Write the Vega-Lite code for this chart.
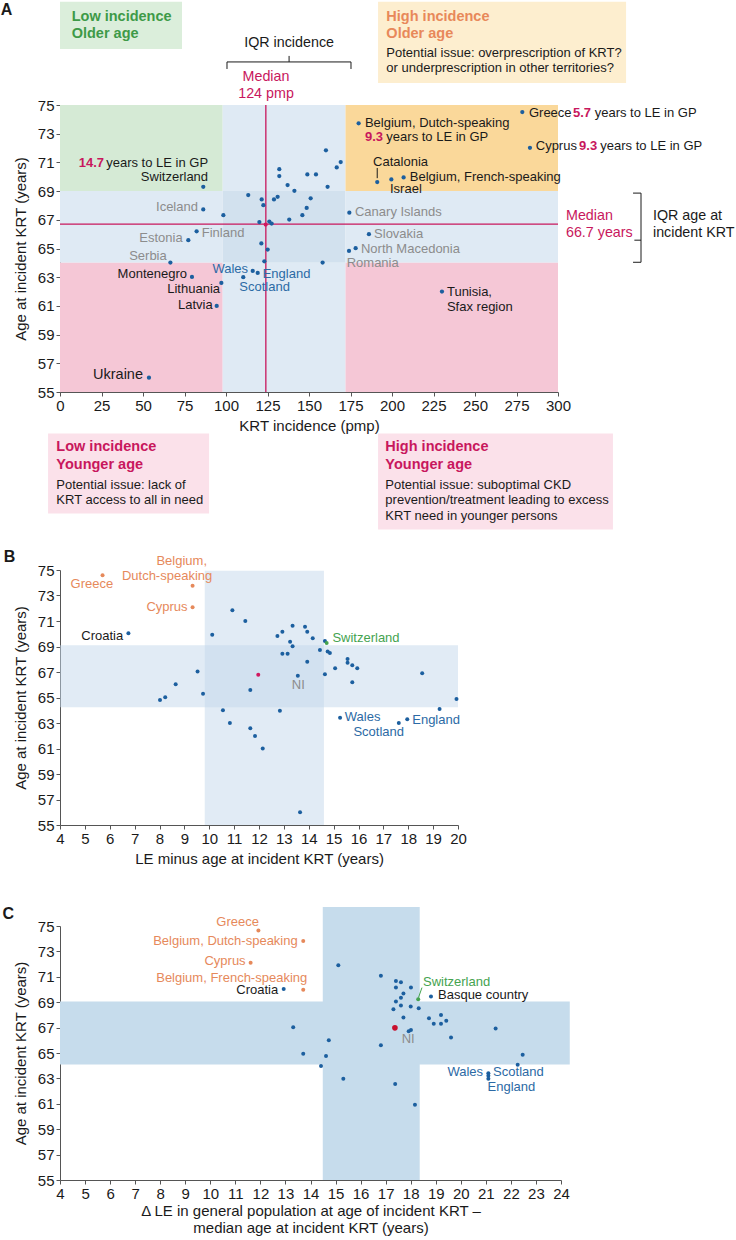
{
"$schema":"https://vega.github.io/schema/vega-lite/v6.json",
"autosize":"none",
"padding":{"left":60,"top":105,"right":676,"bottom":1135},
"background":"white",
"spacing":0,
"bounds":"flush",
"config":{"font":"Liberation Sans","view":{"stroke":null},
 "axis":{"labelFont":"Liberation Sans","titleFont":"Liberation Sans","labelFontSize":15,"titleFontSize":15,"titleFontWeight":"normal","labelColor":"#1a1a1a","titleColor":"#1a1a1a","domainColor":"#555","tickColor":"#555","tickSize":4,"labelPadding":2,"grid":false,"zindex":1,"labelFlush":false,"labelOverlap":false,"labelBound":false},
 "text":{"font":"Liberation Sans","fontSize":13}},
"vconcat":[
{
"width":498,"height":287,
"encoding":{
 "x":{"field":"x","type":"quantitative","scale":{"domain":[0,300],"nice":false,"zero":false},"axis":{"values":[0,25,50,75,100,125,150,175,200,225,250,275,300],"title":"KRT incidence (pmp)","titlePadding":5}},
 "y":{"field":"y","type":"quantitative","scale":{"domain":[55,75],"nice":false,"zero":false},"axis":{"values":[55,57,59,61,63,65,67,69,71,73,75],"title":"Age at incident KRT (years)","titlePadding":9}},
 "color":{"field":"c","type":"nominal","legend":null,"scale":{"domain":["zone_green","zone_blue","zone_iqr","zone_orange","zone_pink","box_green","box_orange","box_pink","country","median","text","text_grey","text_uk","text_crimson","title_green","title_orange","title_crimson","outlier","swiss","median_red","band","band_b"],"range":["#d5ead5","#dfeaf4","#d2e1ee","#fad89a","#f5c7d6","#dbeedb","#fdeecf","#fbe1ea","#1c5f9f","#d0175f","#1a1a1a","#8c8c8c","#2c6aa5","#c8175d","#3e9a48","#e8885a","#c8175d","#e6895b","#45a34f","#c8102e","#c6dcec","#c3d7eb"]}}
},
"layer":[
 {"data":{"values":[
  {"x":0,"x2":98,"y":69,"y2":75,"c":"zone_green"},
  {"x":98,"x2":172,"y":69,"y2":75,"c":"zone_blue"},
  {"x":172,"x2":300,"y":69,"y2":75,"c":"zone_orange"},
  {"x":0,"x2":98,"y":64,"y2":69,"c":"zone_blue"},
  {"x":98,"x2":172,"y":64,"y2":69,"c":"zone_iqr"},
  {"x":172,"x2":300,"y":64,"y2":69,"c":"zone_blue"},
  {"x":0,"x2":98,"y":55,"y2":64,"c":"zone_pink"},
  {"x":98,"x2":172,"y":55,"y2":64,"c":"zone_blue"},
  {"x":172,"x2":300,"y":55,"y2":64,"c":"zone_pink"},
  {"x":0,"x2":73.5,"y":78.91,"y2":82.19,"c":"box_green"},
  {"x":191.6,"x2":341,"y":76.54,"y2":82.19,"c":"box_orange"},
  {"x":-7.2,"x2":89.8,"y":46.53,"y2":52.11,"c":"box_pink"},
  {"x":191.6,"x2":333.1,"y":45.41,"y2":52.11,"c":"box_pink"}]},
  "mark":{"type":"rect"},
  "encoding":{"x2":{"field":"x2"},"y2":{"field":"y2"}}},
 {"data":{"values":[
  {"x":124,"x2":124,"y":55,"y2":75,"c":"text_crimson"},
  {"x":0,"x2":300,"y":66.7,"y2":66.7,"c":"text_crimson"}]},
  "mark":{"type":"rule","strokeWidth":1.3},
  "encoding":{"x2":{"field":"x2"},"y2":{"field":"y2"}}},
 {"data":{"values":[
  {"x":100.6,"x2":175.3,"y":78.0,"y2":78.0,"c":"text"},
  {"x":100.6,"x2":100.6,"y":78.0,"y2":77.51,"c":"text"},
  {"x":175.3,"x2":175.3,"y":78.0,"y2":77.51,"c":"text"},
  {"x":138,"x2":138,"y":78.0,"y2":78.42,"c":"text"},
  {"x":350,"x2":350,"y":68.86,"y2":64.04,"c":"text"},
  {"x":345.2,"x2":350,"y":68.86,"y2":68.86,"c":"text"},
  {"x":345.2,"x2":350,"y":64.04,"y2":64.04,"c":"text"},
  {"x":346,"x2":350,"y":65.58,"y2":65.58,"c":"text"},
  {"x":191.1,"x2":191.1,"y":70.61,"y2":69.9,"c":"text"}]},
  "mark":{"type":"rule","strokeWidth":1},
  "encoding":{"x2":{"field":"x2"},"y2":{"field":"y2"}}},
 {"data":{"values":[
  {"x":86.3,"y":69.3,"c":"country"},{"x":86.3,"y":67.72,"c":"country"},{"x":98.4,"y":67.32,"c":"country"},
  {"x":77.3,"y":65.58,"c":"country"},{"x":82.3,"y":66.2,"c":"country"},{"x":66.5,"y":64.02,"c":"country"},
  {"x":79.5,"y":63.02,"c":"country"},{"x":97.2,"y":62.6,"c":"country"},{"x":94.4,"y":61.0,"c":"country"},
  {"x":53.6,"y":56.0,"c":"country"},{"x":116.1,"y":63.44,"c":"country"},{"x":119.1,"y":63.3,"c":"country"},
  {"x":110.4,"y":63.0,"c":"country"},{"x":121.3,"y":65.35,"c":"country"},{"x":125.1,"y":64.93,"c":"country"},
  {"x":123.1,"y":64.11,"c":"country"},{"x":158.2,"y":64.02,"c":"country"},{"x":113.4,"y":68.72,"c":"country"},
  {"x":121.5,"y":68.42,"c":"country"},{"x":122.5,"y":68.02,"c":"country"},{"x":128.9,"y":68.42,"c":"country"},
  {"x":131.1,"y":68.6,"c":"country"},{"x":151,"y":68.5,"c":"country"},{"x":148.6,"y":67.83,"c":"country"},
  {"x":146,"y":67.32,"c":"country"},{"x":138.1,"y":67.02,"c":"country"},{"x":120.1,"y":66.84,"c":"country"},
  {"x":126.1,"y":66.88,"c":"country"},{"x":127.5,"y":66.74,"c":"country"},{"x":174.3,"y":67.5,"c":"country"},
  {"x":132.1,"y":70.53,"c":"country"},{"x":132.1,"y":70.05,"c":"country"},{"x":137.1,"y":69.42,"c":"country"},
  {"x":141.2,"y":69.02,"c":"country"},{"x":149,"y":70.16,"c":"country"},{"x":154.2,"y":70.16,"c":"country"},
  {"x":160.2,"y":71.84,"c":"country"},{"x":161.2,"y":69.3,"c":"country"},{"x":166.7,"y":70.65,"c":"country"},
  {"x":169.1,"y":71.02,"c":"country"},{"x":179.9,"y":73.72,"c":"country"},{"x":186.1,"y":66.0,"c":"country"},
  {"x":174.1,"y":64.83,"c":"country"},{"x":178.1,"y":65.02,"c":"country"},{"x":191.1,"y":69.63,"c":"country"},
  {"x":278.5,"y":74.51,"c":"country"},{"x":283.1,"y":72.02,"c":"country"},{"x":199.6,"y":69.81,"c":"country"},
  {"x":207,"y":69.95,"c":"country"},{"x":230.1,"y":62.0,"c":"country"},
  {"x":123.9,"y":66.67,"c":"median"}]},
  "mark":{"type":"circle","size":18,"opacity":1}},
 {"data":{"values":[
  {"t":"Catalonia","x":188.6,"y":71.03,"c":"text"},
  {"t":"Israel","x":198.8,"y":69.15,"c":"text"},
  {"t":"Belgium, French-speaking","x":210.7,"y":69.98,"c":"text"},
  {"t":"Belgium, Dutch-speaking","x":183.7,"y":73.75,"c":"text"},
  {"t":"years to LE in GP","x":196.6,"y":72.77,"c":"text"},
  {"t":"Greece","x":282.5,"y":74.44,"c":"text"},
  {"t":"years to LE in GP","x":322.1,"y":74.44,"c":"text"},
  {"t":"Cyprus","x":286.6,"y":72.14,"c":"text"},
  {"t":"years to LE in GP","x":325.5,"y":72.14,"c":"text"},
  {"t":"Tunisia,","x":233.1,"y":61.99,"c":"text"},
  {"t":"Sfax region","x":233.1,"y":60.92,"c":"text"},
  {"t":"Finland","x":85.4,"y":66.08,"c":"text_grey"},
  {"t":"Canary Islands","x":177.7,"y":67.54,"c":"text_grey"},
  {"t":"Slovakia","x":189.2,"y":66.0,"c":"text_grey"},
  {"t":"North Macedonia","x":181.3,"y":65.0,"c":"text_grey"},
  {"t":"Romania","x":172.7,"y":64.0,"c":"text_grey"},
  {"t":"England","x":122.1,"y":63.2,"c":"text_uk"},
  {"t":"Scotland","x":108,"y":62.34,"c":"text_uk"},
  {"t":"Potential issue: overprescription of KRT?","x":196.6,"y":78.65,"c":"text"},
  {"t":"or underprescription in other territories?","x":196.6,"y":77.56,"c":"text"},
  {"t":"Potential issue: lack of","x":-2.2,"y":48.53,"c":"text"},
  {"t":"KRT access to all in need","x":-2.2,"y":47.5,"c":"text"},
  {"t":"Potential issue: suboptimal CKD","x":196.0,"y":48.53,"c":"text"},
  {"t":"prevention/treatment leading to excess","x":196.0,"y":47.5,"c":"text"},
  {"t":"KRT need in younger persons","x":196.0,"y":46.39,"c":"text"}]},
  "mark":{"type":"text","align":"left","fontSize":13},
  "encoding":{"text":{"field":"t"}}},
 {"data":{"values":[
  {"t":"Switzerland","x":89.2,"y":69.98,"c":"text"},
  {"t":"years to LE in GP","x":89.2,"y":70.96,"c":"text"},
  {"t":"Iceland","x":83.1,"y":67.89,"c":"text_grey"},
  {"t":"Estonia","x":73.9,"y":65.73,"c":"text_grey"},
  {"t":"Serbia","x":64.3,"y":64.48,"c":"text_grey"},
  {"t":"Montenegro","x":76.5,"y":63.22,"c":"text"},
  {"t":"Lithuania","x":96.4,"y":62.17,"c":"text"},
  {"t":"Latvia","x":92,"y":61.06,"c":"text"},
  {"t":"Wales","x":113.3,"y":63.6,"c":"text_uk"}]},
  "mark":{"type":"text","align":"right","fontSize":13},
  "encoding":{"text":{"field":"t"}}},
 {"data":{"values":[
  {"t":"9.3","x":183.7,"y":72.77,"c":"text_crimson"},
  {"t":"5.7","x":309,"y":74.44,"c":"text_crimson"},
  {"t":"9.3","x":312.7,"y":72.14,"c":"text_crimson"}]},
  "mark":{"type":"text","align":"left","fontSize":13,"fontWeight":"bold"},
  "encoding":{"text":{"field":"t"}}},
 {"data":{"values":[
  {"t":"14.7","x":26.5,"y":70.96,"c":"text_crimson"}]},
  "mark":{"type":"text","align":"right","fontSize":13,"fontWeight":"bold"},
  "encoding":{"text":{"field":"t"}}},
 {"data":{"values":[
  {"t":"Ukraine","x":50,"y":56.18,"c":"text"}]},
  "mark":{"type":"text","align":"right","fontSize":14.5},
  "encoding":{"text":{"field":"t"}}},
 {"data":{"values":[
  {"t":"Low incidence","x":7.05,"y":81.14,"c":"title_green"},
  {"t":"Older age","x":7.05,"y":79.95,"c":"title_green"},
  {"t":"High incidence","x":196.6,"y":81.16,"c":"title_orange"},
  {"t":"Older age","x":196.6,"y":79.93,"c":"title_orange"},
  {"t":"Low incidence","x":-2.2,"y":51.16,"c":"title_crimson"},
  {"t":"Younger age","x":-2.2,"y":49.93,"c":"title_crimson"},
  {"t":"High incidence","x":196.0,"y":51.16,"c":"title_crimson"},
  {"t":"Younger age","x":196.0,"y":49.93,"c":"title_crimson"}]},
  "mark":{"type":"text","align":"left","fontSize":14.5,"fontWeight":"bold"},
  "encoding":{"text":{"field":"t"}}},
 {"data":{"values":[
  {"t":"IQR incidence","x":138,"y":79.33,"c":"text"},
  {"t":"Median","x":124.1,"y":76.95,"c":"text_crimson"},
  {"t":"124 pmp","x":124.1,"y":75.77,"c":"text_crimson"}]},
  "mark":{"type":"text","align":"center","fontSize":14.3},
  "encoding":{"text":{"field":"t"}}},
 {"data":{"values":[
  {"t":"Median","x":304.8,"y":67.25,"c":"text_crimson"},
  {"t":"66.7 years","x":304.8,"y":66.07,"c":"text_crimson"},
  {"t":"IQR age at","x":357.2,"y":67.25,"c":"text"},
  {"t":"incident KRT","x":357.2,"y":66.07,"c":"text"}]},
  "mark":{"type":"text","align":"left","fontSize":14.3},
  "encoding":{"text":{"field":"t"}}},
 {"data":{"values":[{"t":"A","x":-32.2,"y":81.65,"c":"text"}]},
  "mark":{"type":"text","align":"center","fontSize":16,"fontWeight":"bold"},
  "encoding":{"text":{"field":"t"}}}
]
},
{"width":10,"height":178,"data":{"values":[]},"mark":{"type":"point"},"encoding":{}},
{
"width":398,"height":255,
"encoding":{
 "x":{"field":"x","type":"quantitative","scale":{"domain":[4,20],"nice":false,"zero":false},"axis":{"values":[4,5,6,7,8,9,10,11,12,13,14,15,16,17,18,19,20],"title":"LE minus age at incident KRT (years)","titlePadding":5}},
 "y":{"field":"y","type":"quantitative","scale":{"domain":[55,75],"nice":false,"zero":false},"axis":{"values":[55,57,59,61,63,65,67,69,71,73,75],"title":"Age at incident KRT (years)","titlePadding":9}},
 "color":{"field":"c","type":"nominal","legend":null,"scale":{"domain":["zone_green","zone_blue","zone_iqr","zone_orange","zone_pink","box_green","box_orange","box_pink","country","median","text","text_grey","text_uk","text_crimson","title_green","title_orange","title_crimson","outlier","swiss","median_red","band","band_b"],"range":["#d5ead5","#dfeaf4","#d2e1ee","#fad89a","#f5c7d6","#dbeedb","#fdeecf","#fbe1ea","#1c5f9f","#d0175f","#1a1a1a","#8c8c8c","#2c6aa5","#c8175d","#3e9a48","#e8885a","#c8175d","#e6895b","#45a34f","#c8102e","#c6dcec","#c3d7eb"]}}
},
"layer":[
 {"data":{"values":[
  {"x":9.82,"x2":14.61,"y":55,"y2":74.95,"c":"band_b"},
  {"x":4,"x2":20,"y":64.23,"y2":69.09,"c":"band_b"}]},
  "mark":{"type":"rect","opacity":0.5},
  "encoding":{"x2":{"field":"x2"},"y2":{"field":"y2"}}},
 {"data":{"values":[
  {"x":5.71,"y":74.58,"c":"outlier"},{"x":9.33,"y":73.77,"c":"outlier"},{"x":9.33,"y":72.07,"c":"outlier"},
  {"x":6.75,"y":70.03,"c":"country"},{"x":10.12,"y":69.93,"c":"country"},{"x":10.93,"y":71.84,"c":"country"},
  {"x":11.45,"y":71.0,"c":"country"},{"x":9.53,"y":67.03,"c":"country"},{"x":8.65,"y":66.03,"c":"country"},
  {"x":8.23,"y":65.01,"c":"country"},{"x":8.02,"y":64.8,"c":"country"},{"x":9.75,"y":65.3,"c":"country"},
  {"x":10.55,"y":64.0,"c":"country"},{"x":10.83,"y":63.0,"c":"country"},{"x":11.65,"y":62.58,"c":"country"},
  {"x":11.84,"y":61.98,"c":"country"},{"x":12.15,"y":61.0,"c":"country"},{"x":11.65,"y":65.59,"c":"country"},
  {"x":12.84,"y":63.97,"c":"country"},{"x":12.74,"y":69.82,"c":"country"},{"x":12.94,"y":70.16,"c":"country"},
  {"x":13.35,"y":70.63,"c":"country"},{"x":13.25,"y":69.38,"c":"country"},{"x":13.35,"y":69.01,"c":"country"},
  {"x":12.94,"y":68.44,"c":"country"},{"x":13.15,"y":68.44,"c":"country"},{"x":13.85,"y":70.55,"c":"country"},
  {"x":13.94,"y":70.16,"c":"country"},{"x":14.16,"y":69.64,"c":"country"},{"x":13.94,"y":67.81,"c":"country"},
  {"x":13.56,"y":66.71,"c":"country"},{"x":14.45,"y":68.73,"c":"country"},{"x":14.65,"y":69.43,"c":"country"},
  {"x":14.76,"y":68.6,"c":"country"},{"x":14.85,"y":68.49,"c":"country"},{"x":14.65,"y":66.82,"c":"country"},
  {"x":15.06,"y":67.29,"c":"country"},{"x":15.56,"y":68.02,"c":"country"},{"x":15.56,"y":67.73,"c":"country"},
  {"x":15.75,"y":67.52,"c":"country"},{"x":15.95,"y":67.29,"c":"country"},{"x":15.75,"y":66.19,"c":"country"},
  {"x":15.26,"y":63.42,"c":"country"},{"x":18.56,"y":66.9,"c":"country"},{"x":19.94,"y":64.88,"c":"country"},
  {"x":19.26,"y":64.1,"c":"country"},{"x":17.96,"y":63.29,"c":"country"},{"x":17.62,"y":63.0,"c":"country"},
  {"x":13.65,"y":56.0,"c":"country"},
  {"x":14.72,"y":69.27,"c":"swiss"},
  {"x":11.97,"y":66.79,"c":"median"}]},
  "mark":{"type":"circle","size":16,"opacity":1}},
 {"data":{"values":[
  {"t":"Greece","x":6.14,"y":73.88,"c":"outlier"},
  {"t":"Belgium,","x":9.91,"y":75.67,"c":"outlier"},
  {"t":"Dutch-speaking","x":10.12,"y":74.55,"c":"outlier"},
  {"t":"Cyprus","x":9.13,"y":72.07,"c":"outlier"},
  {"t":"Croatia","x":6.54,"y":69.82,"c":"text"},
  {"t":"Wales","x":16.88,"y":63.45,"c":"text_uk"},
  {"t":"Scotland","x":17.83,"y":62.32,"c":"text_uk"}]},
  "mark":{"type":"text","align":"right","fontSize":13},
  "encoding":{"text":{"field":"t"}}},
 {"data":{"values":[
  {"t":"Switzerland","x":14.95,"y":69.69,"c":"swiss"},
  {"t":"England","x":18.16,"y":63.24,"c":"text_uk"}]},
  "mark":{"type":"text","align":"left","fontSize":13},
  "encoding":{"text":{"field":"t"}}},
 {"data":{"values":[
  {"t":"NI","x":13.58,"y":65.98,"c":"text_grey"}]},
  "mark":{"type":"text","align":"center","fontSize":13},
  "encoding":{"text":{"field":"t"}}},
 {"data":{"values":[{"t":"B","x":1.97,"y":76.02,"c":"text"}]},
  "mark":{"type":"text","align":"center","fontSize":16,"fontWeight":"bold"},
  "encoding":{"text":{"field":"t"}}}
]
},
{"width":10,"height":101,"data":{"values":[]},"mark":{"type":"point"},"encoding":{}},
{
"width":501,"height":254,
"encoding":{
 "x":{"field":"x","type":"quantitative","scale":{"domain":[4,24],"nice":false,"zero":false},"axis":{"values":[4,5,6,7,8,9,10,11,12,13,14,15,16,17,18,19,20,21,22,23,24],"title":["Δ LE in general population at age of incident KRT –","median age at incident KRT (years)"],"titlePadding":2,"titleLineHeight":17}},
 "y":{"field":"y","type":"quantitative","scale":{"domain":[55,75],"nice":false,"zero":false},"axis":{"values":[55,57,59,61,63,65,67,69,71,73,75],"title":"Age at incident KRT (years)","titlePadding":9}},
 "color":{"field":"c","type":"nominal","legend":null,"scale":{"domain":["zone_green","zone_blue","zone_iqr","zone_orange","zone_pink","box_green","box_orange","box_pink","country","median","text","text_grey","text_uk","text_crimson","title_green","title_orange","title_crimson","outlier","swiss","median_red","band","band_b"],"range":["#d5ead5","#dfeaf4","#d2e1ee","#fad89a","#f5c7d6","#dbeedb","#fdeecf","#fbe1ea","#1c5f9f","#d0175f","#1a1a1a","#8c8c8c","#2c6aa5","#c8175d","#3e9a48","#e8885a","#c8175d","#e6895b","#45a34f","#c8102e","#c6dcec","#c3d7eb"]}}
},
"layer":[
 {"data":{"values":[
  {"x":14.49,"x2":18.36,"y":55,"y2":76.5,"c":"band"},
  {"x":4,"x2":24.35,"y":64.1,"y2":69.06,"c":"band"}]},
  "mark":{"type":"rect"},
  "encoding":{"x2":{"field":"x2"},"y2":{"field":"y2"}}},
 {"data":{"values":[
  {"x":18.31,"x2":18.45,"y":69.36,"y2":70.15,"c":"swiss"}]},
  "mark":{"type":"rule","strokeWidth":1},
  "encoding":{"x2":{"field":"x2"},"y2":{"field":"y2"}}},
 {"data":{"values":[
  {"x":11.92,"y":74.64,"c":"outlier"},{"x":13.71,"y":73.82,"c":"outlier"},{"x":11.61,"y":72.11,"c":"outlier"},
  {"x":13.71,"y":69.98,"c":"outlier"},{"x":12.93,"y":70.03,"c":"country"},{"x":15.11,"y":71.9,"c":"country"},
  {"x":16.81,"y":71.08,"c":"country"},{"x":17.41,"y":70.66,"c":"country"},{"x":17.61,"y":70.58,"c":"country"},
  {"x":17.41,"y":70.16,"c":"country"},{"x":18.01,"y":70.16,"c":"country"},{"x":17.71,"y":69.69,"c":"country"},
  {"x":17.61,"y":69.35,"c":"country"},{"x":17.41,"y":69.06,"c":"country"},{"x":18.81,"y":69.45,"c":"country"},
  {"x":17.61,"y":68.74,"c":"country"},{"x":17.31,"y":68.45,"c":"country"},{"x":18.0,"y":68.66,"c":"country"},
  {"x":18.32,"y":68.53,"c":"country"},{"x":17.71,"y":67.79,"c":"country"},{"x":18.73,"y":67.74,"c":"country"},
  {"x":19.21,"y":68.0,"c":"country"},{"x":18.92,"y":67.3,"c":"country"},{"x":19.21,"y":67.3,"c":"country"},
  {"x":19.42,"y":67.53,"c":"country"},{"x":19.61,"y":66.22,"c":"country"},{"x":17.92,"y":66.71,"c":"country"},
  {"x":18.01,"y":66.82,"c":"country"},{"x":16.81,"y":65.61,"c":"country"},{"x":13.31,"y":67.03,"c":"country"},
  {"x":14.73,"y":66.0,"c":"country"},{"x":13.71,"y":64.95,"c":"country"},{"x":14.62,"y":64.77,"c":"country"},
  {"x":14.42,"y":63.98,"c":"country"},{"x":15.31,"y":62.98,"c":"country"},{"x":17.38,"y":62.56,"c":"country"},
  {"x":18.17,"y":60.93,"c":"country"},{"x":21.39,"y":66.93,"c":"country"},{"x":22.47,"y":64.87,"c":"country"},
  {"x":22.27,"y":64.08,"c":"country"},{"x":21.1,"y":63.4,"c":"country"},{"x":21.1,"y":63.2,"c":"country"},
  {"x":21.1,"y":62.97,"c":"country"},
  {"x":18.3,"y":69.24,"c":"swiss"}]},
  "mark":{"type":"circle","size":16,"opacity":1}},
 {"data":{"values":[{"x":17.37,"y":66.98,"c":"median_red"}]},
  "mark":{"type":"circle","size":32,"opacity":1}},
 {"data":{"values":[
  {"t":"Belgium, Dutch-speaking","x":13.49,"y":73.82,"c":"outlier"},
  {"t":"Cyprus","x":11.41,"y":72.28,"c":"outlier"},
  {"t":"Belgium, French-speaking","x":13.87,"y":70.94,"c":"outlier"},
  {"t":"Croatia","x":12.71,"y":69.94,"c":"text"},
  {"t":"Wales","x":20.89,"y":63.5,"c":"text_uk"}]},
  "mark":{"type":"text","align":"right","fontSize":13},
  "encoding":{"text":{"field":"t"}}},
 {"data":{"values":[
  {"t":"Greece","x":11.09,"y":75.31,"c":"outlier"},
  {"t":"NI","x":17.9,"y":66.08,"c":"text_grey"}]},
  "mark":{"type":"text","align":"center","fontSize":13},
  "encoding":{"text":{"field":"t"}}},
 {"data":{"values":[
  {"t":"Switzerland","x":18.49,"y":70.59,"c":"swiss"},
  {"t":"Basque country","x":19.09,"y":69.54,"c":"text"},
  {"t":"Scotland","x":21.29,"y":63.5,"c":"text_uk"},
  {"t":"England","x":21.07,"y":62.32,"c":"text_uk"}]},
  "mark":{"type":"text","align":"left","fontSize":13},
  "encoding":{"text":{"field":"t"}}},
 {"data":{"values":[{"t":"C","x":1.94,"y":75.98,"c":"text"}]},
  "mark":{"type":"text","align":"center","fontSize":16,"fontWeight":"bold"},
  "encoding":{"text":{"field":"t"}}}
]
}
]
}
